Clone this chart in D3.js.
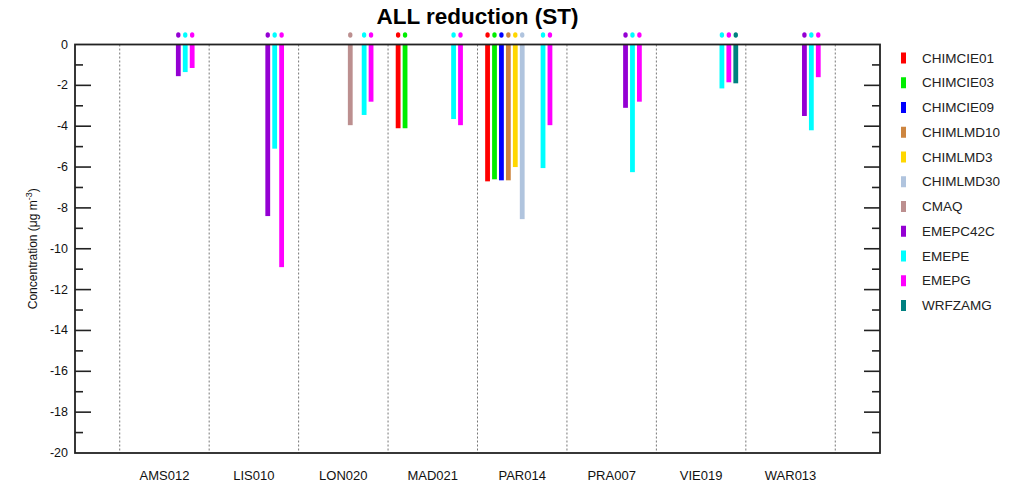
<!DOCTYPE html>
<html>
<head>
<meta charset="utf-8">
<script src="https://cdn.jsdelivr.net/npm/d3@7"></script>
<style>
  body { margin: 0; background: #fff; }
  text { font-family: "Liberation Sans", Arial, sans-serif; }
</style>
</head>
<body>
<script>
// stations along the x axis
const stations = ["AMS012", "LIS010", "LON020", "MAD021", "PAR014", "PRA007", "VIE019", "WAR013"]

// models (legend order) and their colours
const models = ["CHIMCIE01", "CHIMCIE03", "CHIMCIE09", "CHIMLMD100", "CHIMLMD3", "CHIMLMD300",
                "CMAQ", "EMEPC42C", "EMEPE", "EMEPG", "WRFZAMG"]
const colors = ["#ff0000", "#00ee00", "#0000ff", "#cd853f", "#ffd700", "#b0c4de",
                "#bc8f8f", "#9400d3", "#00ffff", "#ff00ff", "#008080"]

// values per model, one per station (null = no data)
const chimcie01  = [null, null, null, -4.1, -6.7, null, null, null]
const chimcie03  = [null, null, null, -4.1, -6.6, null, null, null]
const chimcie09  = [null, null, null, null, -6.65, null, null, null]
const chimlmd100 = [null, null, null, null, -6.65, null, null, null]
const chimlmd3   = [null, null, null, null, -6.0, null, null, null]
const chimlmd300 = [null, null, null, null, -8.55, null, null, null]
const cmaq       = [null, null, -3.95, null, null, null, null, null]
const emepc42c   = [-1.55, -8.4, null, null, null, -3.1, null, -3.5]
const emepe      = [-1.35, -5.1, -3.45, -3.65, -6.05, -6.25, -2.15, -4.2]
const emepg      = [-1.15, -10.9, -2.8, -3.95, -3.95, -2.8, -1.85, -1.6]
const wrfzamg    = [null, null, null, null, null, null, -1.9, null]

const seriesValues = [chimcie01, chimcie03, chimcie09, chimlmd100, chimlmd3, chimlmd300,
                      cmaq, emepc42c, emepe, emepg, wrfzamg]

const yTicks = [0, -2, -4, -6, -8, -10, -12, -14, -16, -18, -20]

// flatten into bar records
let bars = []
models.forEach((m, i) => {
    seriesValues[i].forEach((v, j) => {
        if (v !== null) bars.push({model: m, mi: i, station: j, value: v})
    })
})

let W = 1018, H = 483
let pLeft = 75, pRight = 880, pTop = 44.5, pBottom = 453

let svg = d3.select("body").append("svg").attr("width", W).attr("height", H)

let x = d3.scaleLinear().domain([0, stations.length + 1]).range([pLeft, pRight])
let y = d3.scaleLinear().domain([0, -20]).range([pTop, pBottom])
let slot = x(1) - x(0)
let step = slot * 0.0775   // offset between models inside a group

// dashed separators between stations
svg.selectAll(".sep").data(d3.range(stations.length + 1)).enter()
    .append("line")
    .attr("x1", d => x(d + 0.5)).attr("x2", d => x(d + 0.5))
    .attr("y1", pTop).attr("y2", pBottom)
    .attr("stroke", "#777").attr("stroke-width", 1)
    .attr("stroke-dasharray", "2,2")

// bars
svg.selectAll(".bar").data(bars).enter()
    .append("rect")
    .attr("x", d => x(d.station + 1) + (d.mi - 5) * step - 2.4)
    .attr("y", y(0))
    .attr("width", 4.8)
    .attr("height", d => y(d.value) - y(0))
    .attr("fill", d => colors[d.mi])

// little markers above bars
svg.selectAll(".dot").data(bars).enter()
    .append("ellipse")
    .attr("cx", d => x(d.station + 1) + (d.mi - 5) * step)
    .attr("cy", 35)
    .attr("rx", 2.2).attr("ry", 2.8)
    .attr("fill", d => colors[d.mi])

// frame
svg.append("rect")
    .attr("x", pLeft).attr("y", pTop)
    .attr("width", pRight - pLeft).attr("height", pBottom - pTop)
    .attr("fill", "none").attr("stroke", "#222").attr("stroke-width", 1.8)

// y ticks on left and right, pointing inward
let minor = d3.range(-19, 0, 2)
let tickG = svg.append("g").attr("stroke", "#222").attr("stroke-width", 1.6)
tickG.selectAll(".lt").data(yTicks.slice(1, -1)).enter().append("line")
    .attr("x1", pLeft).attr("x2", pLeft + 16).attr("y1", d => y(d)).attr("y2", d => y(d))
tickG.selectAll(".lm").data(minor).enter().append("line")
    .attr("x1", pLeft).attr("x2", pLeft + 8).attr("y1", d => y(d)).attr("y2", d => y(d))
tickG.selectAll(".rt").data(yTicks.slice(1, -1)).enter().append("line")
    .attr("x1", pRight).attr("x2", pRight - 16).attr("y1", d => y(d)).attr("y2", d => y(d))
tickG.selectAll(".rm").data(minor).enter().append("line")
    .attr("x1", pRight).attr("x2", pRight - 8).attr("y1", d => y(d)).attr("y2", d => y(d))

// y tick labels
svg.selectAll(".ylab").data(yTicks).enter()
    .append("text")
    .attr("x", pLeft - 7).attr("y", d => y(d) + 4)
    .attr("text-anchor", "end")
    .attr("font-size", 12.5)
    .attr("fill", "#111")
    .text(d => d)

// y axis title
let yt = svg.append("text")
    .attr("transform", `translate(37,${(pTop + pBottom) / 2}) rotate(-90)`)
    .attr("text-anchor", "middle")
    .attr("font-size", 12)
    .attr("fill", "#111")
yt.append("tspan").text("Concentration (μg m")
yt.append("tspan").attr("dy", -5).attr("font-size", 9).text("-3")
yt.append("tspan").attr("dy", 5).text(")")

// station labels
svg.selectAll(".xlab").data(stations).enter()
    .append("text")
    .attr("x", (d, i) => x(i + 1)).attr("y", 480)
    .attr("text-anchor", "middle")
    .attr("font-size", 13)
    .attr("fill", "#111")
    .text(d => d)

// title
svg.append("text")
    .attr("x", (pLeft + pRight) / 2).attr("y", 23.5)
    .attr("text-anchor", "middle")
    .attr("font-size", 22.5).attr("font-weight", "bold")
    .attr("fill", "#000")
    .text("ALL reduction (ST)")

// legend, clipped at the right like the original
svg.append("clipPath").attr("id", "legclip")
    .append("rect").attr("x", 890).attr("y", 0).attr("width", 110).attr("height", H)
let leg = svg.append("g").attr("clip-path", "url(#legclip)")
let legRow = leg.selectAll(".leg").data(models).enter()
    .append("g")
    .attr("transform", (d, i) => `translate(901,${58 + i * 24.75})`)
legRow.append("rect")
    .attr("x", 0).attr("y", -5.5).attr("width", 5).attr("height", 11)
    .attr("fill", (d, i) => colors[i])
legRow.append("text")
    .attr("x", 21).attr("y", 4.5)
    .attr("font-size", 13.5)
    .attr("fill", "#222")
    .text(d => d)
</script>
</body>
</html>
